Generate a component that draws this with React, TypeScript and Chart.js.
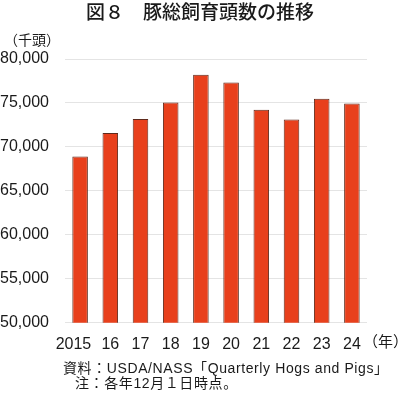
import React, { useEffect, useRef } from "react";
import { Chart, registerables } from "chart.js";

Chart.register(...registerables);

const title = "図８　豚総飼育頭数の推移";
const yUnit = "（千頭）";
const xUnit = "（年）";
const notes = ["資料：USDA/NASS「Quarterly Hogs and Pigs」", "注：各年12月１日時点。"];
const categories = ["2015", "16", "17", "18", "19", "20", "21", "22", "23", "24"];
const values = [68900, 71570, 73170, 75060, 78200, 77330, 74230, 73120, 75480, 74940];
const yMin = 50000;
const yMax = 80000;
const yStep = 5000;

const FONT = "'Liberation Sans', 'Noto Sans CJK JP', sans-serif";

export default function App() {
  const ref = useRef<HTMLCanvasElement | null>(null);
  useEffect(() => {
    if (!ref.current) return;
    const textPlugin = {
      id: "texts",
      afterDraw(chart: any) {
        const ctx = chart.ctx;
        ctx.save();
        ctx.fillStyle = "#1a1a1a";
        ctx.textBaseline = "middle";
        ctx.font = `500 19px ${FONT}`;
        ctx.textAlign = "center";
        ctx.fillText(title, 200, 14);
        ctx.font = `14px ${FONT}`;
        ctx.textAlign = "left";
        ctx.fillText(yUnit, 4, 41);
        ctx.font = `15px ${FONT}`;
        ctx.fillText(xUnit, 363, 343);
        ctx.font = `14px ${FONT}`;
        (ctx as any).letterSpacing = "0.6px";
        ctx.fillText(notes[0], 63, 369);
        ctx.fillText(notes[1], 75, 384);
        ctx.restore();
      },
    };
    const chart = new Chart(ref.current, {
      type: "bar",
      data: {
        labels: categories,
        datasets: [
          {
            data: values,
            backgroundColor: "#E8401C",
            borderColor: "#5e2a1c",
            borderWidth: 1,
            barPercentage: 1,
            categoryPercentage: 0.515,
          },
        ],
      },
      options: {
        animation: false,
        responsive: false,
        maintainAspectRatio: false,
        devicePixelRatio: 1,
        layout: { padding: { top: 59, right: 33, left: 0, bottom: 0 } },
        plugins: { legend: { display: false }, tooltip: { enabled: false }, title: { display: false } },
        scales: {
          x: {
            grid: { display: false, drawTicks: false },
            border: { display: false },
            ticks: {
              color: "#1a1a1a",
              font: { family: FONT, size: 16 },
              padding: 12,
              maxRotation: 0,
              autoSkip: false,
              callback: (_v: any, i: number) => (i === 0 ? categories[i] + "   " : categories[i]),
            },
            afterFit: (s: any) => { s.height = 73.3; },
          },
          y: {
            min: yMin,
            max: yMax,
            grid: { color: "#e4e4e4", drawTicks: false, lineWidth: 1 },
            border: { display: false },
            ticks: {
              stepSize: yStep,
              color: "#1a1a1a",
              font: { family: FONT, size: 16 },
              padding: 16,
              callback: (v: any) => Number(v).toLocaleString("en-US"),
            },
            afterFit: (s: any) => { s.width = 65; },
          },
        },
      },
      plugins: [textPlugin],
    });
    return () => chart.destroy();
  }, []);
  return (
    <div style={{ position: "fixed", left: 0, top: 0, width: 400, height: 396, background: "#fff" }}>
      <canvas ref={ref} width={400} height={396} style={{ display: "block", width: 400, height: 396 }} />
    </div>
  );
}
